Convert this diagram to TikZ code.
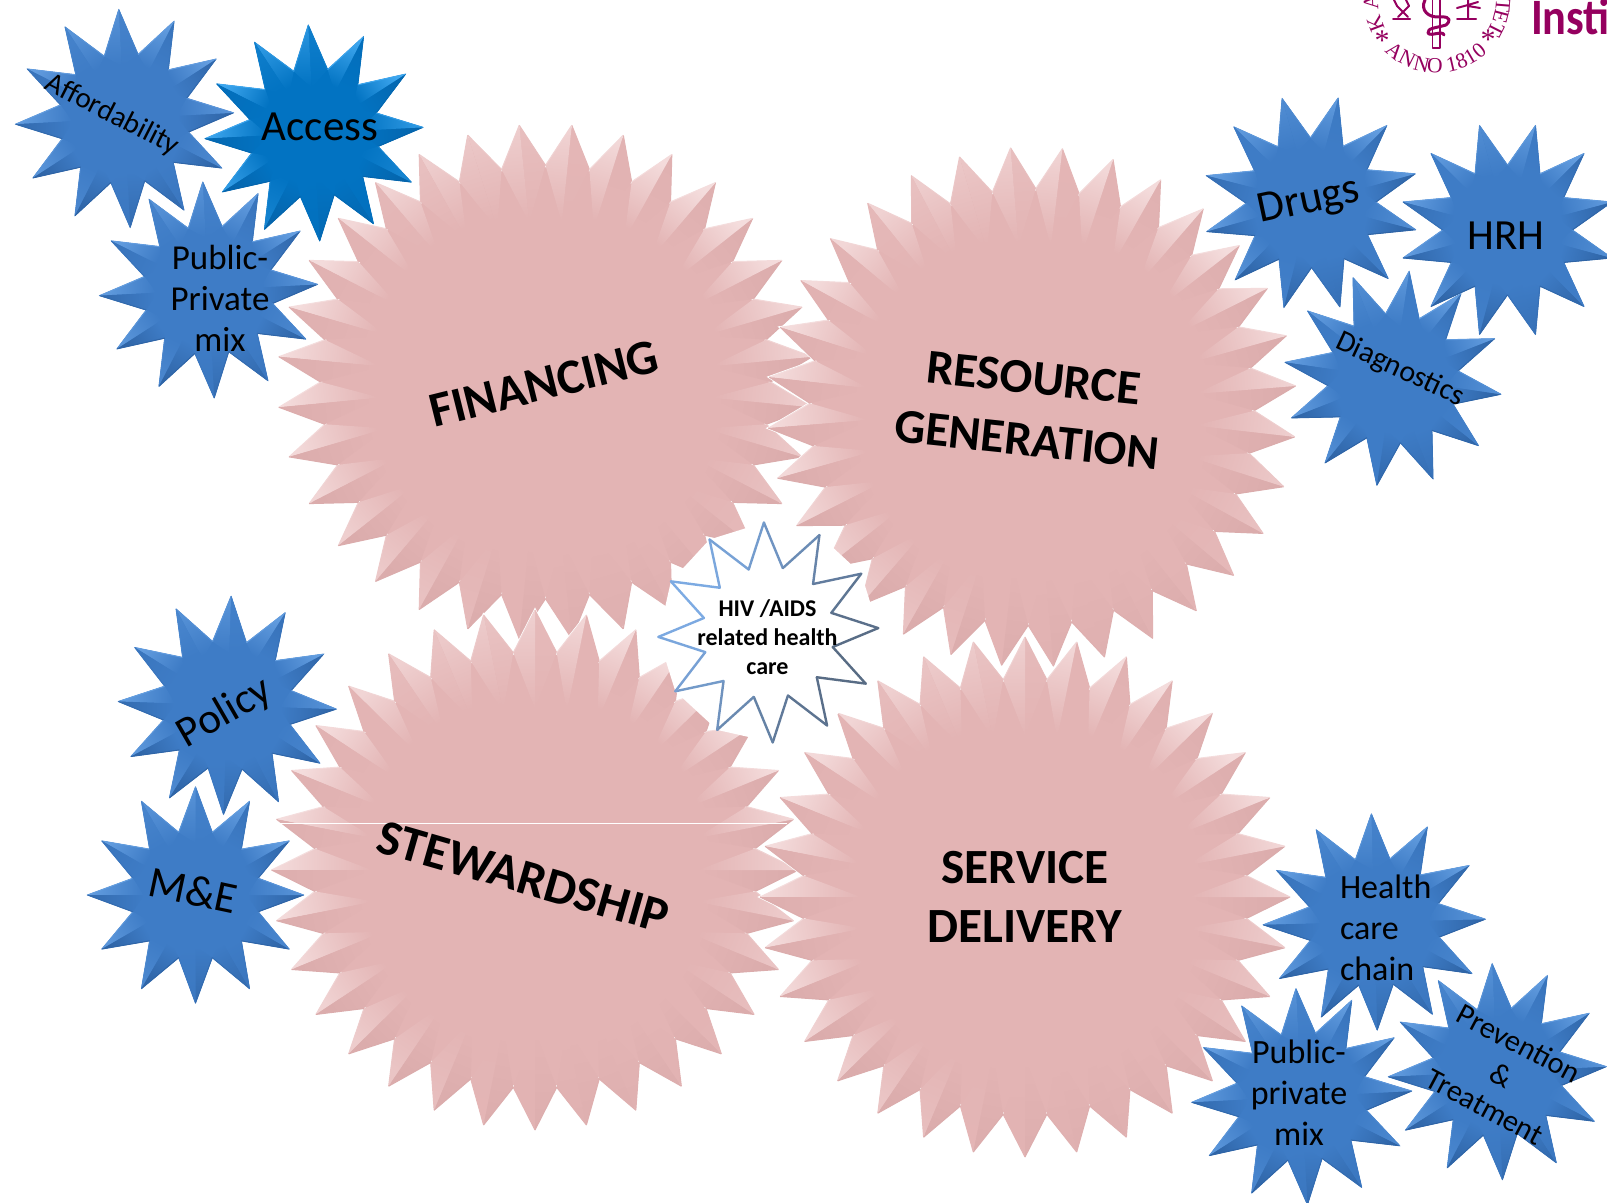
\documentclass[tikz,border=0pt]{standalone}
\usepackage{fontspec}
\setmainfont{Carlito}
\newfontfamily\sealfont{Liberation Serif}
\definecolor{logoC}{HTML}{95005F}
\definecolor{hivlight}{HTML}{7FAEE8}
\definecolor{hivdark}{HTML}{56687F}
\newcommand{\bnotch}{.6}
\newcommand{\bridge}{.45}
\newcommand{\blit}{60}
\newcommand{\bshade}{40}
\newcommand{\bhalow}{0.3pt}
% kinds of star
\newcommand{\kindpink}{%
  \definecolor{bbase}{HTML}{E3B4B4}%
  \definecolor{blight}{HTML}{FFF6F6}\definecolor{bdark}{HTML}{B58686}\colorlet{bhalo}{white}%
  \renewcommand{\bnotch}{.84}\renewcommand{\bridge}{.62}\renewcommand{\blit}{62}\renewcommand{\bshade}{18}\renewcommand{\bhalow}{1.2pt}}
\newcommand{\kindblue}{%
  \definecolor{bbase}{HTML}{3E7CC6}%
  \definecolor{blight}{HTML}{78B0EE}\definecolor{bdark}{HTML}{1F4C85}\definecolor{bhalo}{HTML}{3E7CC6}%
  \renewcommand{\bnotch}{.6}\renewcommand{\bridge}{.48}\renewcommand{\blit}{65}\renewcommand{\bshade}{50}\renewcommand{\bhalow}{0.3pt}}
\newcommand{\kindaccess}{%
  \definecolor{bbase}{HTML}{0273C2}%
  \definecolor{blight}{HTML}{47AEF5}\definecolor{bdark}{HTML}{075A9C}\definecolor{bhalo}{HTML}{0273C2}%
  \renewcommand{\bnotch}{.6}\renewcommand{\bridge}{.42}\renewcommand{\blit}{90}\renewcommand{\bshade}{60}\renewcommand{\bhalow}{0.3pt}}
% \burst{cx}{cy}{rx}{ry}{points}{clockwise rotation}
\newcommand{\burst}[6]{%
  \begin{scope}[shift={(#1,-#2)}]
    \pgfmathsetmacro\dlt{180/#5}
    \pgfmathsetmacro\sta{90-#6}
    \pgfmathtruncatemacro\lastp{#5-1}
    \path[fill=bbase,draw=bhalo,line width=\bhalow,line join=miter]
      ({#3*cos(\sta)},{#4*sin(\sta)})
      \foreach \i [evaluate=\i as \aa using \sta-\i*2*\dlt, evaluate=\i as \nn using \sta-\i*2*\dlt-\dlt] in {0,...,\lastp}
        { -- ({#3*cos(\aa)},{#4*sin(\aa)}) -- ({\bnotch*#3*cos(\nn)},{\bnotch*#4*sin(\nn)}) } -- cycle;
    \foreach \i in {0,...,\lastp}{%
      \pgfmathsetmacro\aa{\sta-\i*2*\dlt}
      \foreach \s in {-1,1}{%
        \pgfmathsetmacro\nn{\aa+\s*\dlt}
        \pgfmathsetmacro\bb{.45*(-.3*cos(\aa)+.95*sin(\aa))+.9*(-.3*cos(\aa+90*\s)+.95*sin(\aa+90*\s))}
        \pgfmathsetmacro\vv{min(100,abs(\bb)*(\bb>0?\blit:\bshade))}
        \ifdim\bb pt>0pt \colorlet{tipc}{blight!\vv!bbase}\else \colorlet{tipc}{bdark!\vv!bbase}\fi
        \pgfmathsetmacro\sa{\aa-90}
        \shade[top color=tipc,bottom color=bbase,shading angle=\sa]
          ({#3*cos(\aa)},{#4*sin(\aa)}) -- ({\bnotch*#3*cos(\nn)},{\bnotch*#4*sin(\nn)})
          -- ({\bridge*#3*cos(\aa)},{\bridge*#4*sin(\aa)}) -- cycle;
        \draw[tipc,line width=0.5pt]
          ({#3*cos(\aa)},{#4*sin(\aa)}) -- ({\bnotch*#3*cos(\nn)},{\bnotch*#4*sin(\nn)});
      }
    }
  \end{scope}}
\tikzset{
  lbl/.style={inner sep=0pt,outer sep=0pt,text=black,align=center},
  sealtxt/.style={inner sep=0pt,text=logoC,font=\sealfont\fontsize{10.8}{12}\selectfont},
  logoline/.style={draw=logoC,line cap=round,line join=round},
}
\begin{document}
\begin{tikzpicture}[x=0.5pt,y=0.5pt]
\useasboundingbox (0,0) rectangle (1607,-1203);
\fill[white] (0,0) rectangle (1607,-1203);
\clip (0,0) rectangle (1607,-1203);

% logo
\foreach \ch/\th [count=\k] in {A/-40,N/-26.8,N/-13.6,O/-1.8,1/13,8/21.8,1/30.2,0/39.6}
  \node[sealtxt,rotate=\th] (sealb\k) at ({1437+66*sin(\th)},{-66*cos(\th)}) {\ch};
\foreach \ch/\aa [count=\k] in {K/201,A/182,T/-26.8,E/-14.6,T/-4.5}{
  \pgfmathsetmacro\rr{\aa-90}
  \node[sealtxt,rotate=\rr] (sealt\k) at ({1437+66*cos(\aa)},{66*sin(\aa)}) {\ch};
}
\node[sealtxt,font=\sealfont\fontsize{15}{15}\selectfont] (sealstarl) at (1382,-41) {*};
\node[sealtxt,font=\sealfont\fontsize{15}{15}\selectfont] (sealstarr) at (1488,-40) {*};
\draw[logoline,line width=0.9pt] (1432.5,0) -- (1432.5,-48) -- (1440,-48) -- (1440,0);
\draw[logoline,line width=1.5pt] (1425,0) .. controls (1420,-10) and (1428,-18) .. (1440,-17)
  .. controls (1452,-16) and (1450,-22) .. (1446,-25) .. controls (1436,-28) and (1427,-28) .. (1428,-33)
  .. controls (1430,-37) and (1443,-30) .. (1444,-35);
\draw[logoline,line width=1pt] (1393,-19.5) -- (1410,-19.5);
\draw[logoline,line width=1pt] (1398,-17) -- (1409,-6) -- (1406,0) (1408,-17) -- (1397,-6) -- (1394,0);
\draw[logoline,line width=1pt] (1457,-19.5) -- (1476,-19.5);
\draw[logoline,line width=1pt] (1468,-19) -- (1468,0) (1468,-5) -- (1457,-8) (1468,-5) -- (1478,-2) (1468,-6) -- (1480,-8);
\node[inner sep=0pt,outer sep=0pt,text=logoC,anchor=base west,xscale=.87,font=\bfseries\fontsize{25.5}{26}\selectfont] (insti) at (1531,-35) {Insti};

% back blue stars
\kindblue
\burst{195.5}{895}{108}{108}{12}{0}
\burst{227.3}{705.3}{109}{109}{12}{2}
\burst{124.5}{118.5}{109}{109}{12}{-3}
\kindaccess
\burst{314}{133}{109}{108}{12}{-3}
\kindblue
\burst{208.5}{290}{109}{108}{12}{-3}

% big stars
\kindpink
\burst{545.5}{382}{268}{258}{32}{5.625}
\burst{1032}{407}{264.5}{260}{32}{6.6}
\burst{535}{870}{263.5}{260}{32}{0}
\burst{1025}{897}{265}{260}{32}{0}
\draw[white,line width=0.5pt] (274,-823) -- (787,-823);

% front blue stars
\kindblue
\burst{1311}{202.7}{108}{108}{12}{14.5}
\burst{1507.5}{230}{108}{108}{12}{15}
\burst{1393}{378.3}{109}{108}{12}{8.5}
\burst{1374.3}{922}{111}{108}{12}{-1.5}
\burst{1301.7}{1096.7}{110}{108}{12}{-3}
\burst{1497.3}{1071.7}{109}{108}{12}{-2.7}

% HIV star
\fill[white] \foreach \i [evaluate=\i as \aa using 92.3-\i*30, evaluate=\i as \nn using 92.3-\i*30-15] in {0,...,11}
  { ({768.3+110*cos(\aa)},{-632.5+110*sin(\aa)}) -- ({768.3+66*cos(\nn)},{-632.5+66*sin(\nn)}) -- ({768.3+110*cos(\aa-30)},{-632.5+110*sin(\aa-30)}) } ;
\fill[white] (768.3,-632.5) circle (66);
\foreach \i in {0,...,11}{
  \pgfmathsetmacro\aa{92.3-\i*30}
  \pgfmathsetmacro\nn{\aa-15}
  \pgfmathsetmacro\mixa{max(0,min(100,50+45*cos(\aa-15-150)))}
  \pgfmathsetmacro\mixb{max(0,min(100,50+45*cos(\aa-30-150)))}
  \draw[hivlight!\mixa!hivdark,line width=1.2pt,line cap=round] ({768.3+110*cos(\aa)},{-632.5+110*sin(\aa)}) -- ({768.3+66*cos(\nn)},{-632.5+66*sin(\nn)});
  \draw[hivlight!\mixb!hivdark,line width=1.2pt,line cap=round] ({768.3+66*cos(\nn)},{-632.5+66*sin(\nn)}) -- ({768.3+110*cos(\aa-30)},{-632.5+110*sin(\aa-30)});
}

% texts
\node[lbl,rotate=14,font=\bfseries\fontsize{24.7}{30}\selectfont] (financing) at (543.8,-383.8) {FINANCING};
\node[lbl,rotate=-6,font=\bfseries\fontsize{24.3}{31}\selectfont] (resource) at (1030.4,-409) {RESOURCE\\GENERATION};
\node[lbl,rotate=-16,font=\bfseries\fontsize{25}{30}\selectfont] (stewardship) at (523.5,-877) {STEWARDSHIP};
\node[lbl,font=\bfseries\fontsize{24.6}{29.7}\selectfont] (service) at (1025,-897) {SERVICE\\DELIVERY};
\node[lbl,font=\bfseries\fontsize{12}{14.5}\selectfont] (hiv) at (767.5,-637) {HIV /AIDS\\related health\\care};
\node[lbl,font=\fontsize{21.5}{25}\selectfont] (access) at (320,-127) {Access};
\node[lbl,rotate=-27,font=\fontsize{14.6}{17}\selectfont] (afford) at (112,-115) {Affordability};
\node[lbl,font=\fontsize{17.5}{20.5}\selectfont] (ppmixa) at (220,-298) {Public-\\Private\\mix};
\node[lbl,rotate=12,font=\fontsize{22}{25}\selectfont] (drugs) at (1309,-202) {Drugs};
\node[lbl,font=\fontsize{21.5}{25}\selectfont] (hrh) at (1506,-236) {HRH};
\node[lbl,rotate=-25,font=\fontsize{15}{18}\selectfont] (diag) at (1400,-370) {Diagnostics};
\node[lbl,rotate=30,font=\fontsize{21.5}{25}\selectfont] (policy) at (225,-713) {Policy};
\node[lbl,rotate=-12,font=\fontsize{22}{25}\selectfont] (mande) at (193,-890) {M\&E};
\node[lbl,align=left,anchor=west,font=\fontsize{17}{20.5}\selectfont] (chain) at (1340,-928) {Health\\care\\chain};
\node[lbl,font=\fontsize{17}{20.5}\selectfont] (ppmixb) at (1299,-1093) {Public-\\private\\mix};
\node[lbl,rotate=-28,font=\fontsize{15.2}{18}\selectfont] (prevent) at (1502,-1075) {Prevention\\\&\\Treatment};
\end{tikzpicture}
\end{document}
